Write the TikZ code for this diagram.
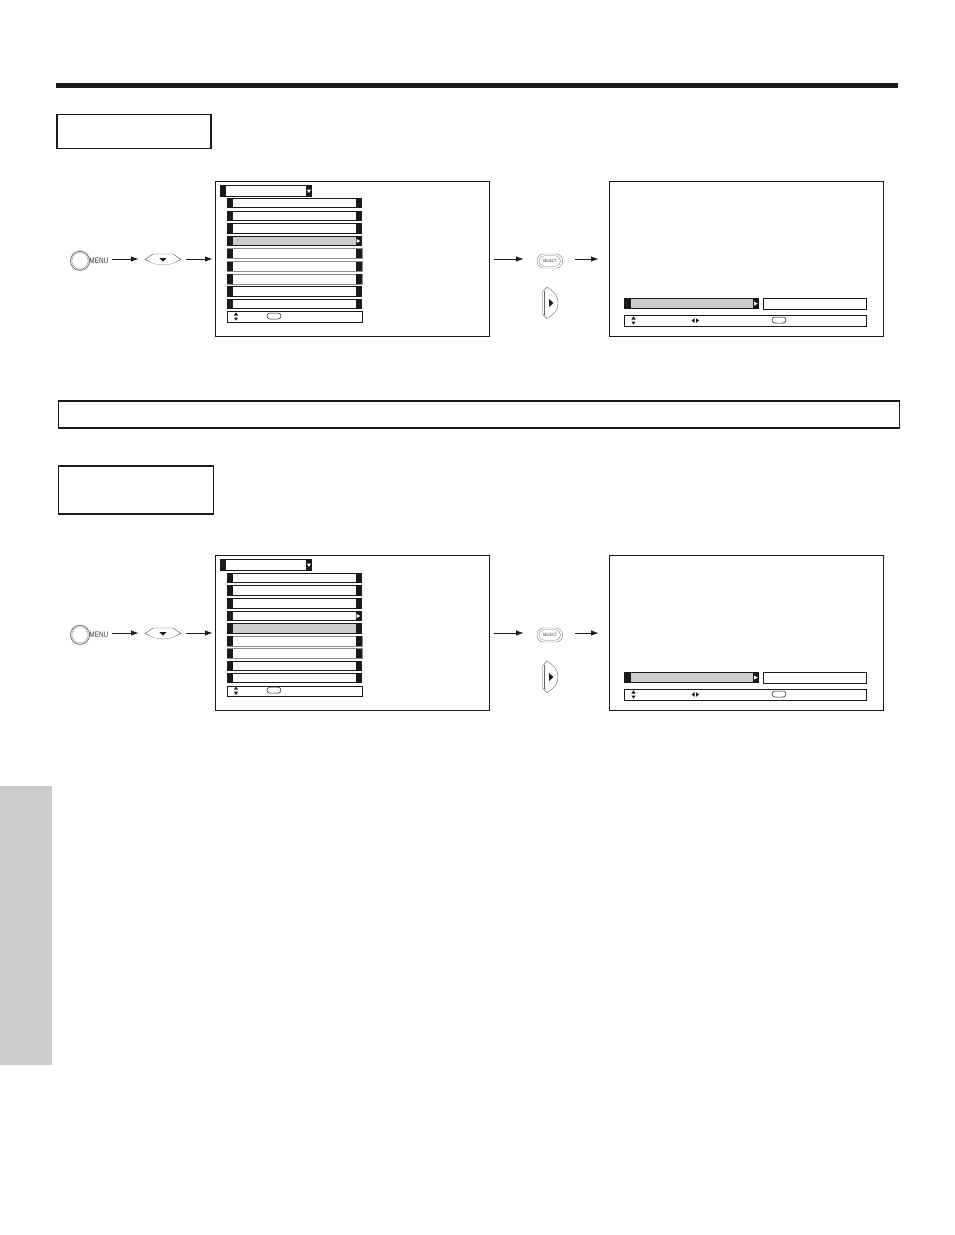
\documentclass[tikz,border=0pt]{standalone}
\usepackage{fontspec}
\setmainfont{Liberation Sans}
\usetikzlibrary{arrows.meta}
\definecolor{hl}{HTML}{CCCCCC}
\definecolor{ink}{HTML}{1A1A1A}
\tikzset{
  labelbox/.style={draw=ink,line width=1.3pt,fill=white,inner sep=0pt},
  panelbox/.style={draw=ink,line width=0.9pt,fill=white,inner sep=0pt},
  legendbox/.style={draw=ink,line width=0.9pt,fill=white},
  rowblack/.style={fill=ink,draw=none},
  rowwhite/.style={fill=white,draw=none},
  rowgray/.style={fill=hl,draw=none},
  softrow/.style={draw=black!45,line width=0.7pt},
  flow/.style={draw=ink,line width=0.8pt,-{Latex[length=7.5pt,width=5.5pt]}},
  thinline/.style={draw=black!70,line width=0.35pt,fill=white},
  tip/.style={fill=ink,draw=none},
  btntext/.style={inner sep=0pt,font=\fontsize{6.6}{7}\selectfont,text=black!80},
}
\newcommand{\updown}[2]{%
  \fill[tip] (#1-2.1,#2-1) -- (#1+2.1,#2-1) -- (#1,#2-4.2) -- cycle;
  \fill[tip] (#1-2.1,#2+1) -- (#1+2.1,#2+1) -- (#1,#2+4.2) -- cycle;}
\newcommand{\okpill}[2]{\draw[thinline,line width=0.5pt,draw=ink,rounded corners=3pt] (#1-7,#2-3) rectangle (#1+7,#2+3);}
\newcommand{\menurow}[2]{%
  \fill[rowblack] (227,#1-5.4) rectangle (362,#1+5.4);
  \fill[#2] (233,#1-4.2) rectangle (355.5,#1+4.2);}
\newcommand{\softmenurow}[1]{%
  \draw[softrow] (227,#1-5) rectangle (362,#1+5);
  \fill[rowblack] (227,#1-4.6) rectangle (233,#1+4.6);
  \fill[rowblack] (355.5,#1-4.6) rectangle (362,#1+4.6);
  \fill[rowwhite] (233,#1-4.2) rectangle (355.5,#1+4.2);}
\newcommand{\rowtip}[1]{\fill[white] (356.6,#1-2) -- (360.4,#1) -- (356.6,#1+2) -- cycle;}
\begin{document}
\begin{tikzpicture}[x=1pt,y=-1pt]
\useasboundingbox (0,0) rectangle (954,1235);
\fill[white] (0,0) rectangle (954,1235);
\fill[ink] (56,83) rectangle (898,87.5);
\fill[hl] (0,786) rectangle (52,1065);
\node[labelbox,minimum width=154pt,minimum height=34pt,anchor=north west] (title1) at (56.2,113.8) {};
\node[labelbox,minimum width=841pt,minimum height=27pt,anchor=north west] (notebar) at (57.5,400.2) {};
\draw[ink,line width=1.6pt] (58,428) -- (899,428);
\node[labelbox,minimum width=155pt,minimum height=48pt,anchor=north west] (title2) at (57.6,465.2) {};

\foreach \pre/\yy in {a/0,b/374}{
\begin{scope}[yshift=-\yy pt]
  \node[panelbox,minimum width=274pt,minimum height=154.5pt,anchor=north west] (\pre menu) at (215,181) {};
  \node[panelbox,minimum width=274pt,minimum height=154.5pt,anchor=north west] (\pre screen) at (609,181) {};
  \fill[rowblack] (220,185) rectangle (312,197);
  \fill[rowwhite] (226,186.2) rectangle (305.5,195.8);
  \fill[white] (306.8,189.5) -- (311,189.5) -- (308.9,193) -- cycle;
  \fill[rowblack] (624,298.2) rectangle (759,309);
  \fill[rowgray] (631,299.4) rectangle (752.5,307.8);
  \fill[white] (754,301.6) -- (757.8,303.6) -- (754,305.6) -- cycle;
  \node[legendbox,minimum width=103pt,minimum height=10.5pt,inner sep=0pt,anchor=north west] (\pre value) at (762.5,298) {};
  \node[legendbox,minimum width=241.5pt,minimum height=10.5pt,inner sep=0pt,anchor=north west] (\pre slegend) at (624,315) {};
  \updown{633.5}{320.5}
  \fill[tip] (694.5,318.2) -- (691.6,320.5) -- (694.5,322.8) -- cycle;
  \fill[tip] (696,318.2) -- (698.9,320.5) -- (696,322.8) -- cycle;
  \okpill{779}{320}
  \draw[thinline,line width=0.9pt,draw=black!50] (80,260.8) circle (9.6);
  \draw[thinline,draw=black!50] (80,260.8) circle (8.2);
  \node[btntext,xscale=0.8,anchor=west] (\pre menutxt) at (89.3,260.4) {\fontsize{8}{8}\selectfont MENU};
  \coordinate (\pre dnL) at (145,259.5);
  \coordinate (\pre dnR) at (181,259.5);
  \draw[thinline,line width=0.4pt] (\pre dnL) -- (153,254) -- (173,254) -- (\pre dnR) .. controls (172,264.6) and (154,264.6) .. cycle;
  \draw[thinline,line width=0.3pt,draw=black!50] (147.5,260.3) .. controls (155,266.5) and (171,266.5) .. (178.5,260.3);
  \fill[tip] (159.3,258) -- (166.7,258) -- (163,261.6) -- cycle;
  \draw[thinline,line width=0.4pt,draw=black!55,rounded corners=6.5pt] (537,254) rectangle (562.5,268);
  \draw[thinline,line width=0.3pt,draw=black!55,rounded corners=5pt] (539,255.8) rectangle (560.5,266.2);
  \node[btntext,xscale=0.8,font=\fontsize{4.6}{5}\selectfont] (\pre seltxt) at (549.8,261) {SELECT};
  \draw[thinline,line width=0.4pt,draw=black!60] (542.5,292) -- (547,287) .. controls (556,293) and (558,297) .. (558,303) .. controls (558,309) and (556,313) .. (547,318.5) -- (542.5,314) -- cycle;
  \draw[thinline,line width=0.3pt,draw=black!60] (544.5,291) -- (544.5,315);
  \fill[tip] (549,299) -- (553.5,303) -- (549,307) -- cycle;
  \coordinate (\pre m) at (112,259);
  \coordinate (\pre d) at (138.5,259);
  \coordinate (\pre e) at (186,259);
  \coordinate (\pre f) at (212.5,259);
  \coordinate (\pre g) at (494,259);
  \coordinate (\pre h) at (523.5,259);
  \coordinate (\pre i) at (575,259);
  \coordinate (\pre j) at (598.5,259);
  \draw[flow] (\pre m) -- (\pre d);
  \draw[flow] (\pre e) -- (\pre f);
  \draw[flow] (\pre g) -- (\pre h);
  \draw[flow] (\pre i) -- (\pre j);
\end{scope}}

\menurow{203}{rowwhite}
\menurow{216}{rowwhite}
\menurow{228.3}{rowwhite}
\menurow{241}{rowgray}\rowtip{241}
\softmenurow{253.5}
\softmenurow{266.2}
\softmenurow{279}
\menurow{291.3}{rowwhite}
\menurow{304}{rowwhite}
\node[legendbox,minimum width=135pt,minimum height=10.5pt,inner sep=0pt,anchor=north west] (alegend) at (226.7,311.2) {};
\updown{236}{316.5}
\okpill{274}{316}

\menurow{578}{rowwhite}
\menurow{590.5}{rowwhite}
\menurow{603.5}{rowwhite}
\menurow{616}{rowwhite}\rowtip{616}
\menurow{628.5}{rowgray}
\softmenurow{641}
\softmenurow{653.5}
\menurow{666}{rowwhite}
\menurow{678}{rowwhite}
\node[legendbox,minimum width=135pt,minimum height=10.5pt,inner sep=0pt,anchor=north west] (blegend) at (226.7,685.5) {};
\updown{236}{690.7}
\okpill{274}{690.2}
\end{tikzpicture}
\end{document}
